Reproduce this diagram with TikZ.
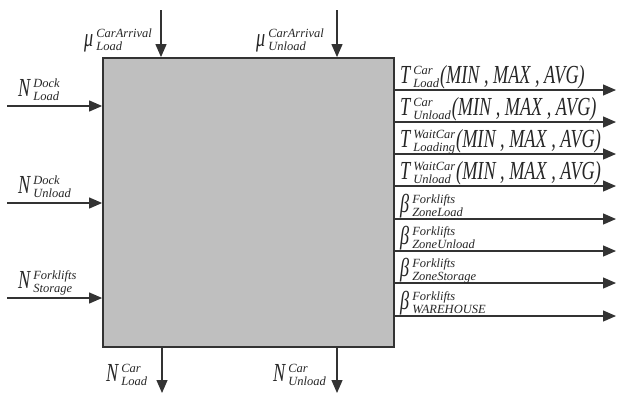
\documentclass[tikz,border=0pt]{standalone}
\usepackage{fontspec}
\usepackage{graphicx}
\setmainfont{Liberation Serif}
\usetikzlibrary{arrows.meta, positioning}
\newcommand{\bigit}{\fontsize{26}{28}\selectfont\itshape}
\newcommand{\smallit}{\fontsize{12.5}{13}\selectfont\itshape}
\newcommand{\sym}[3]{\scalebox{0.7}[1]{\bigit #1}\kern3pt\raisebox{-4.5pt}{\vbox{\smallit\baselineskip=13pt\lineskiplimit=-100pt\hbox{#2}\hbox{#3}}}}
\newcommand{\stats}{\kern1pt\scalebox{0.7}[1]{\bigit (MIN , MAX , AVG)}}
\tikzset{
    flow/.style={-{Triangle[length=13pt,width=11pt]}, line width=1.2pt, draw=black!80},
    lbl/.style={inner sep=0pt, text=black!85},
}

\begin{document}
\begin{tikzpicture}[x=1pt, y=-1pt]
    \useasboundingbox (0,0) rectangle (626,394);
    \node[draw=black!80, line width=1.8pt, fill=gray!50, minimum width=291pt, minimum height=289pt, inner sep=0pt] (blk) at (248.5,202.5) {};

    % inputs from above
    \coordinate (muLoad) at (161,10);
    \coordinate (muUnload) at (337,10);
    \draw[flow] (muLoad) -- (muLoad |- blk.north);
    \draw[flow] (muUnload) -- (muUnload |- blk.north);
    \node[lbl, anchor=base west] at (84,46) {\sym{μ}{CarArrival}{Load}};
    \node[lbl, anchor=base west] at (256,46) {\sym{μ}{CarArrival}{Unload}};

    % inputs from the left
    \foreach \y/\name/\up/\dn in {106/dockLoad/Dock/Load, 203/dockUnload/Dock/Unload, 298/forkStorage/Forklifts/Storage}{
        \coordinate (\name) at (7,\y);
        \draw[flow] (\name) -- (\name -| blk.west);
        \node[lbl, anchor=base west] at (18,\y-10) {\sym{N}{\up}{\dn}};
    }

    % outputs to the right
    \foreach \y/\name/\base/\up/\dn/\tail in {
        90/tLoad/T/Car/Load/\stats,
        122/tUnload/T/Car/Unload/\stats,
        154/tWaitLoad/T/WaitCar/Loading/\stats,
        186/tWaitUnload/T/WaitCar/Unload/\stats,
        219/bZoneLoad/β/Forklifts/ZoneLoad/{},
        251/bZoneUnload/β/Forklifts/ZoneUnload/{},
        283/bZoneStorage/β/Forklifts/ZoneStorage/{},
        316/bWarehouse/β/Forklifts/WAREHOUSE/{}}{
        \coordinate (\name) at (616,\y);
        \draw[flow] (\name -| blk.east) -- (\name);
        \node[lbl, anchor=base west] at (400,\y-7) {\sym{\base}{\up}{\dn}\tail};
    }

    % outputs below
    \coordinate (nLoad) at (162,393);
    \coordinate (nUnload) at (337,393);
    \draw[flow] (nLoad |- blk.south) -- (nLoad);
    \draw[flow] (nUnload |- blk.south) -- (nUnload);
    \node[lbl, anchor=base west] at (106,381) {\sym{N}{Car}{Load}};
    \node[lbl, anchor=base west] at (273,381) {\sym{N}{Car}{Unload}};
\end{tikzpicture}
\end{document}
